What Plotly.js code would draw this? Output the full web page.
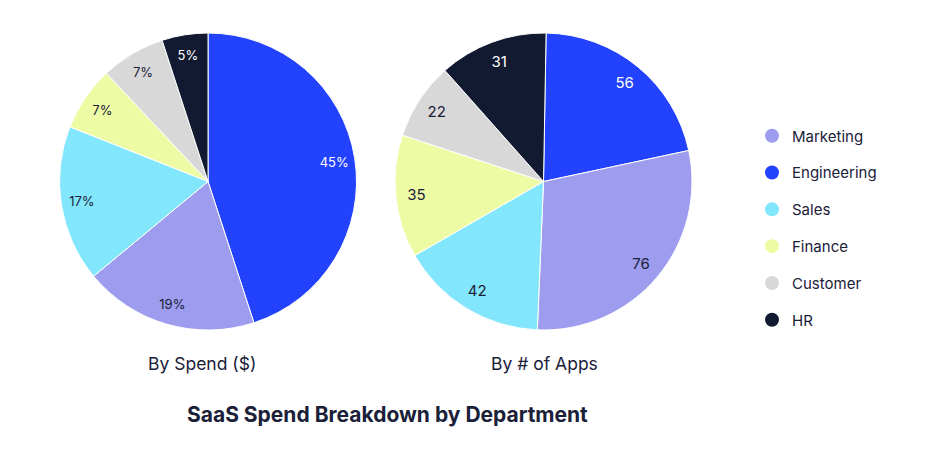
<!DOCTYPE html>
<html><head><meta charset="utf-8">
<script src="https://cdn.plot.ly/plotly-3.0.1.min.js"></script>
<style>html,body{margin:0;padding:0;background:#fff;}</style>
</head><body>
<div id="chart" style="width:940px;height:465px;"></div>
<script>
// Data
const departments = ["Engineering", "Marketing", "Sales", "Finance", "Customer", "HR"];
const spendPercent = [45, 19, 17, 7, 7, 5];
const appCounts = [56, 76, 42, 35, 22, 31];
const legendOrder = ["Marketing", "Engineering", "Sales", "Finance", "Customer", "HR"];
const deptColors = {Marketing: "#9d9cee", Engineering: "#2342fd", Sales: "#82e6fc", Finance: "#edfca4", Customer: "#d8d8d8", HR: "#111a31"};
const textColors = {Marketing: "#1a2038", Engineering: "#ffffff", Sales: "#1a2038", Finance: "#1a2038", Customer: "#1a2038", HR: "#ffffff"};
const subtitles = ["By Spend ($)", "By # of Apps"];
const mainTitle = "SaaS Spend Breakdown by Department";

const FONT = "Inter, 'Open Sans', sans-serif";
const sliceColors = departments.map(d => deptColors[d]);
const sliceText = departments.map(d => textColors[d]);
const clear = departments.map(() => "rgba(0,0,0,0)");

const domains = [
  {x: [0.0633, 0.3793], y: [0.2903, 0.9290]},
  {x: [0.4202, 0.7362], y: [0.2903, 0.9290]}
];
const series = [
  {values: spendPercent, textinfo: "percent", size: 13, rotation: 0},
  {values: appCounts, textinfo: "value", size: 15, rotation: 1}
];

const traces = [];
series.forEach((s, k) => {
  // full disc (no text)
  traces.push({
    type: "pie", sort: false, direction: "clockwise", rotation: s.rotation,
    labels: departments, values: s.values, domain: domains[k],
    marker: {colors: sliceColors, line: {color: "#ffffff", width: 1}},
    textinfo: "none", showlegend: false, hoverinfo: "label+value+percent"
  });
  // transparent outer ring that only carries the labels
  traces.push({
    type: "pie", sort: false, direction: "clockwise", rotation: s.rotation, hole: 0.72,
    labels: departments, values: s.values, domain: domains[k],
    marker: {colors: clear, line: {width: 0}},
    textinfo: s.textinfo, textposition: "inside", insidetextorientation: "horizontal",
    textfont: {family: FONT, size: s.size, color: sliceText},
    showlegend: false, hoverinfo: "skip"
  });
});
legendOrder.forEach((d, i) => {
  traces.push({
    type: "scatter", mode: "markers", x: [null], y: [null], name: d,
    legendgroup: "g" + i, marker: {color: deptColors[d], size: 14, symbol: "circle"},
    hoverinfo: "skip"
  });
});

const layout = {
  width: 940, height: 465,
  margin: {l: 0, r: 0, t: 0, b: 0},
  paper_bgcolor: "#ffffff", plot_bgcolor: "#ffffff",
  font: {family: FONT, color: "#1a2038"},
  xaxis: {visible: false}, yaxis: {visible: false},
  showlegend: true,
  legend: {x: 0.8, xanchor: "left", y: 0.743, yanchor: "top", itemsizing: "trace",
    tracegroupgap: 14.3, font: {family: FONT, size: 15, color: "#1a2038"}, bgcolor: "rgba(0,0,0,0)"},
  annotations: [
    {text: subtitles[0], x: 202/940, y: 1 - 363/465, xref: "paper", yref: "paper", showarrow: false,
      xanchor: "center", yanchor: "middle", font: {family: FONT, size: 17.5, color: "#1a2038"}},
    {text: subtitles[1], x: 544/940, y: 1 - 363/465, xref: "paper", yref: "paper", showarrow: false,
      xanchor: "center", yanchor: "middle", font: {family: FONT, size: 17.5, color: "#1a2038"}},
    {text: "<b>" + mainTitle + "</b>", x: 387/940, y: 1 - 414/465, xref: "paper", yref: "paper", showarrow: false,
      xanchor: "center", yanchor: "middle", font: {family: FONT, size: 21, color: "#1a2038"}}
  ]
};

Plotly.newPlot("chart", traces, layout, {displayModeBar: false, staticPlot: true});
</script>
</body></html>
